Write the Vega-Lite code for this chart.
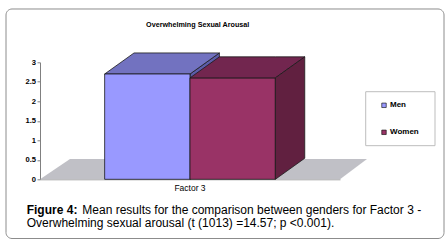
{
  "$schema": "https://vega.github.io/schema/vega-lite/v6.json",
  "width": 300,
  "height": 117,
  "autosize": "none",
  "padding": {"left": 40, "top": 62.3, "right": 105, "bottom": 67.7},
  "background": "#ffffff",
  "datasets": {
    "bars": [
      {"factor": "Factor 3", "gender": "Men", "value": 2.70},
      {"factor": "Factor 3", "gender": "Women", "value": 2.60}
    ],
    "faces": [
      {"part": "floor", "x": 0, "y": 0, "y2": 0},
      {"part": "floor", "x": 10, "y": 0, "y2": 0.52},
      {"part": "floor", "x": 100, "y": 0, "y2": 0.52},
      {"part": "floor", "x": 109, "y": 0.52, "y2": 0.52},
      {"part": "menSide", "x": 50, "y": 0, "y2": 2.70},
      {"part": "menSide", "x": 59.8, "y": 0.54, "y2": 3.24},
      {"part": "menTop", "x": 21.55, "y": 2.70, "y2": 2.70},
      {"part": "menTop", "x": 31.35, "y": 2.70, "y2": 3.24},
      {"part": "menTop", "x": 50, "y": 2.70, "y2": 3.24},
      {"part": "menTop", "x": 59.8, "y": 3.24, "y2": 3.24},
      {"part": "womenTop", "x": 50, "y": 2.60, "y2": 2.60},
      {"part": "womenTop", "x": 59.8, "y": 2.60, "y2": 3.14},
      {"part": "womenTop", "x": 78.45, "y": 2.60, "y2": 3.14},
      {"part": "womenTop", "x": 88.25, "y": 3.14, "y2": 3.14},
      {"part": "womenSide", "x": 78.45, "y": 0, "y2": 2.60},
      {"part": "womenSide", "x": 88.25, "y": 0.54, "y2": 3.14}
    ]
  },
  "resolve": {"scale": {"x": "independent"}},
  "layer": [
    {
      "data": {"values": [{}]},
      "mark": {"type": "rect", "fill": "#ffffff", "fillOpacity": 0, "stroke": "#8c8c8c", "strokeWidth": 1, "cornerRadius": 6},
      "encoding": {
        "x": {"datum": -11.33, "type": "quantitative", "scale": {"domain": [0, 100]}, "axis": null},
        "x2": {"datum": 134.67},
        "y": {"datum": 4.367, "type": "quantitative", "scale": {"domain": [0, 3], "nice": false}, "title": null},
        "y2": {"datum": -1.518}
      }
    },
    {
      "data": {"name": "faces"},
      "transform": [{"filter": "datum.part == 'floor'"}],
      "mark": {"type": "area", "fill": "#c0c0c6", "opacity": 1},
      "encoding": {
        "x": {"field": "x", "type": "quantitative", "scale": {"domain": [0, 100]}, "axis": null},
        "y": {"field": "y", "type": "quantitative", "scale": {"domain": [0, 3], "nice": false}, "title": null},
        "y2": {"field": "y2"}
      }
    },
    {
      "data": {"name": "faces"},
      "transform": [{"filter": "datum.part == 'menSide'"}],
      "mark": {"type": "area", "fill": "#5c5ca8", "opacity": 1, "stroke": "#1a1a1a", "strokeWidth": 0.8},
      "encoding": {
        "x": {"field": "x", "type": "quantitative", "scale": {"domain": [0, 100]}, "axis": null},
        "y": {"field": "y", "type": "quantitative", "scale": {"domain": [0, 3], "nice": false}, "title": null},
        "y2": {"field": "y2"}
      }
    },
    {
      "data": {"name": "faces"},
      "transform": [{"filter": "datum.part == 'menTop'"}],
      "mark": {"type": "area", "fill": "#7272c0", "opacity": 1, "stroke": "#1a1a1a", "strokeWidth": 0.8},
      "encoding": {
        "x": {"field": "x", "type": "quantitative", "scale": {"domain": [0, 100]}, "axis": null},
        "y": {"field": "y", "type": "quantitative", "scale": {"domain": [0, 3], "nice": false}, "title": null},
        "y2": {"field": "y2"}
      }
    },
    {
      "data": {"name": "bars"},
      "mark": {"type": "bar", "stroke": "#1a1a1a", "strokeWidth": 0.8, "opacity": 1},
      "encoding": {
        "x": {
          "field": "factor", "type": "nominal",
          "scale": {"paddingOuter": 0.3787, "paddingInner": 0},
          "axis": {
            "title": null, "labelAngle": 0, "ticks": false, "tickSize": 0,
            "domain": true, "domainColor": "#a0a0a0", "domainWidth": 1,
            "labelFont": "Liberation Sans", "labelFontSize": 8.5, "labelColor": "#000000",
            "labelPadding": 4
          }
        },
        "xOffset": {"field": "gender", "type": "nominal", "scale": {"paddingInner": 0, "paddingOuter": 0}},
        "y": {
          "field": "value", "type": "quantitative",
          "scale": {"domain": [0, 3], "nice": false},
          "title": null
        },
        "color": {
          "field": "gender", "type": "nominal",
          "scale": {"domain": ["Men", "Women"], "range": ["#9999ff", "#993366"]},
          "legend": {
            "title": null, "orient": "none", "legendX": 340, "legendY": 39, "padding": 0,
            "symbolType": "square", "symbolSize": 20, "symbolStrokeColor": "#000000",
            "symbolStrokeWidth": 0.6, "symbolOpacity": 1,
            "labelFont": "Liberation Sans", "labelFontWeight": "bold", "labelFontSize": 8,
            "labelColor": "#000000", "labelOffset": 2, "rowPadding": 19
          }
        }
      }
    },
    {
      "data": {"name": "faces"},
      "transform": [{"filter": "datum.part == 'womenTop'"}],
      "mark": {"type": "area", "fill": "#72264f", "opacity": 1, "stroke": "#1a1a1a", "strokeWidth": 0.8},
      "encoding": {
        "x": {"field": "x", "type": "quantitative", "scale": {"domain": [0, 100]}, "axis": null},
        "y": {"field": "y", "type": "quantitative", "scale": {"domain": [0, 3], "nice": false}, "title": null},
        "y2": {"field": "y2"}
      }
    },
    {
      "data": {"name": "faces"},
      "transform": [{"filter": "datum.part == 'womenSide'"}],
      "mark": {"type": "area", "fill": "#612040", "opacity": 1, "stroke": "#1a1a1a", "strokeWidth": 0.8},
      "encoding": {
        "x": {"field": "x", "type": "quantitative", "scale": {"domain": [0, 100]}, "axis": null},
        "y": {"field": "y", "type": "quantitative", "scale": {"domain": [0, 3], "nice": false}, "title": null},
        "y2": {"field": "y2"}
      }
    },
    {
      "data": {"values": [{}]},
      "mark": {"type": "rect", "fill": "#ffffff", "fillOpacity": 0, "stroke": "#bdbdbd", "strokeWidth": 1},
      "encoding": {
        "x": {"datum": 108.57, "type": "quantitative", "scale": {"domain": [0, 100]}, "axis": null},
        "x2": {"datum": 131.67},
        "y": {"datum": 2.246, "type": "quantitative", "scale": {"domain": [0, 3], "nice": false}, "title": null},
        "y2": {"datum": 0.862}
      }
    },
    {
      "data": {"values": [{}]},
      "mark": {"type": "text", "font": "Liberation Sans", "fontWeight": "bold", "fontSize": 7.2, "align": "center", "baseline": "alphabetic", "color": "#000000"},
      "encoding": {
        "x": {"datum": 52.57, "type": "quantitative", "scale": {"domain": [0, 100]}, "axis": null},
        "y": {"datum": 3.897, "type": "quantitative", "scale": {"domain": [0, 3], "nice": false}, "title": null},
        "text": {"value": "Overwhelming Sexual Arousal"}
      }
    },
    {
      "data": {"values": [{}]},
      "mark": {"type": "text", "font": "Liberation Sans", "fontWeight": "bold", "fontSize": 12, "align": "left", "baseline": "alphabetic", "color": "#000000"},
      "encoding": {
        "x": {"datum": -4.43, "type": "quantitative", "scale": {"domain": [0, 100]}, "axis": null},
        "y": {"datum": -0.897, "type": "quantitative", "scale": {"domain": [0, 3], "nice": false}, "title": null},
        "text": {"value": "Figure 4:"}
      }
    },
    {
      "data": {"values": [{}]},
      "mark": {"type": "text", "font": "Liberation Sans", "fontSize": 12, "align": "left", "baseline": "alphabetic", "color": "#000000"},
      "encoding": {
        "x": {"datum": 14.1, "type": "quantitative", "scale": {"domain": [0, 100]}, "axis": null},
        "y": {"datum": -0.897, "type": "quantitative", "scale": {"domain": [0, 3], "nice": false}, "title": null},
        "text": {"value": "Mean results for the comparison between genders for Factor 3 -"}
      }
    },
    {
      "data": {"values": [{}]},
      "mark": {"type": "text", "font": "Liberation Sans", "fontSize": 12, "align": "left", "baseline": "alphabetic", "color": "#000000"},
      "encoding": {
        "x": {"datum": -4.43, "type": "quantitative", "scale": {"domain": [0, 100]}, "axis": null},
        "y": {"datum": -1.231, "type": "quantitative", "scale": {"domain": [0, 3], "nice": false}, "title": null},
        "text": {"value": "Overwhelming sexual arousal (t (1013) =14.57; p <0.001)."}
      }
    }
  ],
  "config": {
    "view": {"stroke": null},
    "axis": {"grid": false},
    "axisY": {
      "tickCount": 6, "format": "~g", "grid": false, "labelOverlap": false, "labelFlush": false,
      "labelFont": "Liberation Sans", "labelFontWeight": "bold", "labelFontSize": 7.6,
      "labelColor": "#000000", "domainColor": "#808080", "tickColor": "#808080",
      "tickSize": 3, "labelPadding": 1.5, "title": null
    }
  }
}
